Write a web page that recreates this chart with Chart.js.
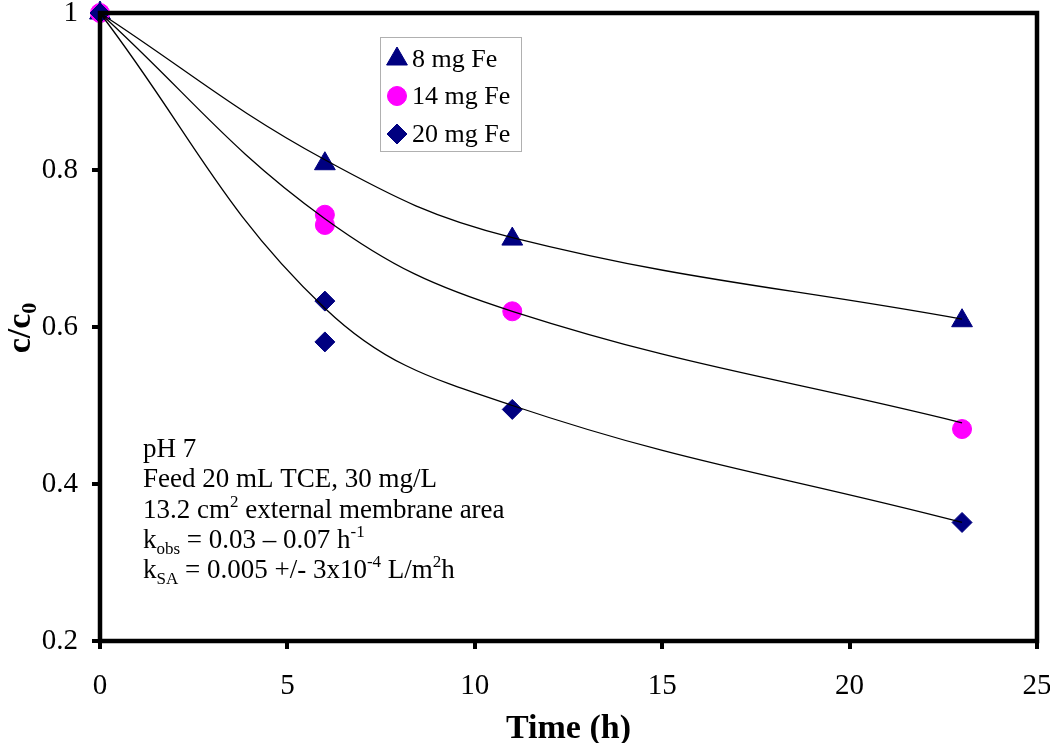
<!DOCTYPE html>
<html>
<head>
<meta charset="utf-8">
<script src="https://cdn.jsdelivr.net/npm/chart.js@4.4.1/dist/chart.umd.min.js"></script>
<style>
html,body{margin:0;padding:0;background:#fff;}
#wrap{width:1050px;height:743px;}
</style>
</head>
<body>
<div id="wrap"><canvas id="c" width="1050" height="743"></canvas></div>
<script>
// ---- data ----
const seriesNames = ['8 mg Fe', '14 mg Fe', '20 mg Fe'];
const time8 = [0, 6, 11, 23];
const conc8 = [1, 0.808, 0.712, 0.608];
const time14 = [0, 6, 6, 11, 23];
const conc14 = [1, 0.743, 0.730, 0.620, 0.470];
const time20 = [0, 6, 6, 11, 23];
const conc20 = [1, 0.633, 0.581, 0.495, 0.351];
const fitTime = [0, 6, 11, 23];
const fit8 = [1, 0.813, 0.714, 0.610];
const fit14 = [1, 0.738, 0.620, 0.478];
const fit20 = [1, 0.624, 0.500, 0.351];
const xTickLabels = ['0', '5', '10', '15', '20', '25'];
const yTickLabels = ['0.2', '0.4', '0.6', '0.8', '1'];
const notes = [
  [['pH 7', 'n']],
  [['Feed 20 mL TCE, 30 mg/L', 'n']],
  [['13.2 cm', 'n'], ['2', 'sup'], [' external membrane area', 'n']],
  [['k', 'n'], ['obs', 'sub'], [' = 0.03 \u2013 0.07 h', 'n'], ['-1', 'sup']],
  [['k', 'n'], ['SA', 'sub'], [' = 0.005 +/- 3x10', 'n'], ['-4', 'sup'], [' L/m', 'n'], ['2', 'sup'], ['h', 'n']]
];

const NAVY = '#000080', MAG = '#FF00FF';
const SERIF = '"Liberation Serif", "Times New Roman", serif';

function pts(xs, ys) { return xs.map((x, i) => ({x: x, y: ys[i]})); }

const markerDefs = [
  {style: 'triangle', color: NAVY, r: 12},
  {style: 'circle', color: MAG, r: 9.5},
  {style: 'rectRot', color: NAVY, r: 10}
];

function lineDs(d) {
  return {type: 'line', data: d, showLine: true, borderColor: '#000', borderWidth: 1.3,
    pointRadius: 0, fill: false, tension: 0.4, order: 0, clip: false};
}
function markDs(label, d, m, ord) {
  return {type: 'scatter', label: label, data: d, showLine: false, pointStyle: m.style,
    pointRadius: m.r, pointHoverRadius: m.r, backgroundColor: m.color, borderColor: m.color,
    borderWidth: 1, order: ord, clip: false};
}

const overlay = {
  id: 'overlay',
  afterDraw(chart) {
    const ctx = chart.ctx, a = chart.chartArea;
    ctx.save();
    // frame
    ctx.strokeStyle = '#000';
    ctx.lineWidth = 4.5;
    ctx.strokeRect(a.left, a.top, a.right - a.left, a.bottom - a.top);

    // legend
    const lx = 380, ly = 37, lw = 141, lh = 114;
    ctx.lineWidth = 1;
    ctx.strokeStyle = '#b0b0b0';
    ctx.fillStyle = '#fff';
    ctx.fillRect(lx, ly, lw, lh);
    ctx.strokeRect(lx + 0.5, ly + 0.5, lw, lh);
    const rowsY = [59, 96, 134];
    const basesY = [67, 104, 142];
    seriesNames.forEach((name, i) => {
      const m = markerDefs[i];
      ctx.fillStyle = m.color;
      ctx.strokeStyle = m.color;
      ctx.lineWidth = 1;
      Chart.helpers.drawPoint(ctx, {pointStyle: m.style, radius: m.r, borderWidth: 1, rotation: 0}, 397, rowsY[i]);
      ctx.fillStyle = '#000';
      ctx.font = '26px ' + SERIF;
      ctx.textAlign = 'left';
      ctx.textBaseline = 'alphabetic';
      ctx.fillText(name, 412, basesY[i]);
    });

    // notes
    const base = [457, 487, 518, 548, 578];
    notes.forEach((line, i) => {
      let x = 143;
      line.forEach(([t, kind]) => {
        let size = 27, dy = 0;
        if (kind === 'sup') { size = 17; dy = -11; }
        if (kind === 'sub') { size = 17; dy = 6; }
        ctx.font = size + 'px ' + SERIF;
        ctx.fillStyle = '#000';
        ctx.textAlign = 'left';
        ctx.textBaseline = 'alphabetic';
        ctx.fillText(t, x, base[i] + dy);
        x += ctx.measureText(t).width;
      });
    });

    // x title
    ctx.font = 'bold 34px ' + SERIF;
    ctx.textAlign = 'center';
    ctx.textBaseline = 'alphabetic';
    ctx.fillStyle = '#000';
    ctx.fillText('Time (h)', (a.left + a.right) / 2, 738);

    // y title  c/c0
    ctx.translate(30, 328);
    ctx.rotate(-Math.PI / 2);
    ctx.font = 'bold 34px ' + SERIF;
    const t1 = 'c/c';
    const w1 = ctx.measureText(t1).width;
    ctx.font = 'bold 22px ' + SERIF;
    const w2 = ctx.measureText('0').width;
    const start = -(w1 + w2) / 2;
    ctx.font = 'bold 34px ' + SERIF;
    ctx.textAlign = 'left';
    ctx.fillText(t1, start, 0);
    ctx.font = 'bold 22px ' + SERIF;
    ctx.fillText('0', start + w1, 6);
    ctx.restore();
  }
};

const chart = new Chart(document.getElementById('c'), {
  type: 'scatter',
  data: {
    datasets: [
      lineDs(pts(fitTime, fit8)),
      lineDs(pts(fitTime, fit14)),
      lineDs(pts(fitTime, fit20)),
      markDs(seriesNames[0], pts(time8, conc8), markerDefs[0], 3),
      markDs(seriesNames[1], pts(time14, conc14), markerDefs[1], 2),
      markDs(seriesNames[2], pts(time20, conc20), markerDefs[2], 1)
    ]
  },
  options: {
    responsive: false,
    animation: false,
    devicePixelRatio: 1,
    layout: {padding: {left: 0, right: 13, top: 11, bottom: 0}},
    plugins: {legend: {display: false}, tooltip: {enabled: false}},
    scales: {
      x: {
        type: 'linear', min: 0, max: 25,
        ticks: {stepSize: 5, font: {family: SERIF, size: 29}, color: '#000', padding: 20,
          maxRotation: 0, autoSkip: false,
          callback: (v) => { const i = Math.round(v / 5); return xTickLabels[i]; }},
        grid: {display: true, drawOnChartArea: false, drawTicks: true, tickLength: 8, lineWidth: 4, color: '#000'},
        border: {display: false},
        afterFit: (s) => { s.height = 102; s.paddingLeft = 0; s.paddingRight = 0; }
      },
      y: {
        type: 'linear', min: 0.2, max: 1,
        ticks: {stepSize: 0.2, font: {family: SERIF, size: 29}, color: '#000', padding: 14,
          callback: (v) => { const i = Math.round((v - 0.2) / 0.2); return yTickLabels[i]; }},
        grid: {display: true, drawOnChartArea: false, drawTicks: true, tickLength: 8, lineWidth: 4, color: '#000'},
        border: {display: false},
        afterFit: (s) => { s.width = 100; s.paddingTop = 0; s.paddingBottom = 0; }
      }
    }
  },
  plugins: [overlay]
});
</script>
</body>
</html>
